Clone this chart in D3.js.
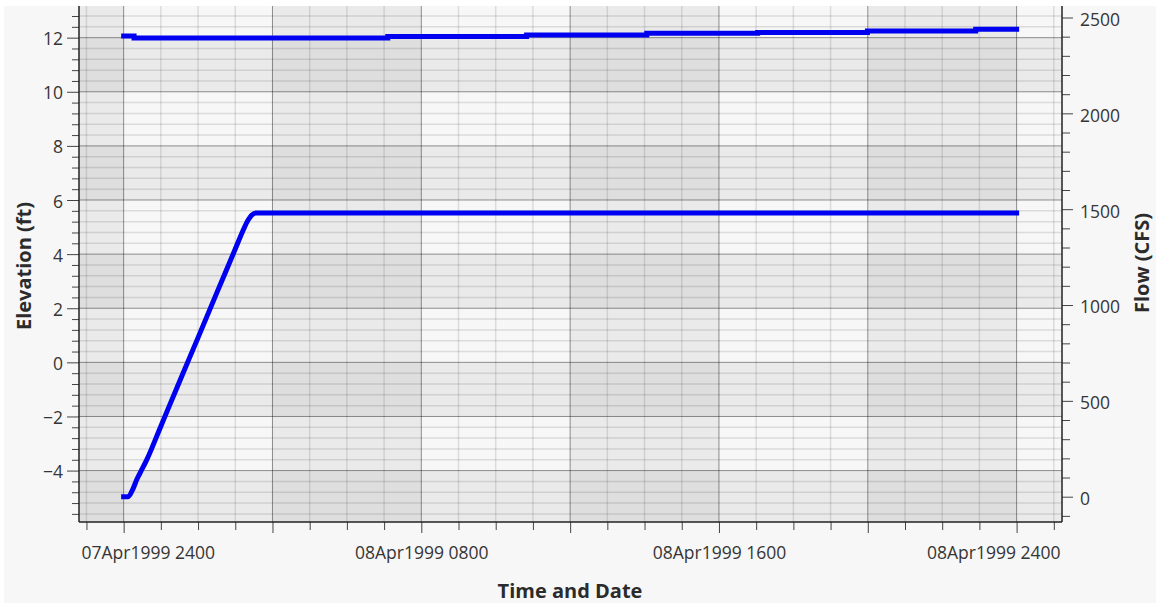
<!DOCTYPE html>
<html lang="en">
<head>
<meta charset="UTF-8">
<title>Elevation and Flow</title>
<script src="https://d3js.org/d3.v7.min.js"></script>
<style>
    html, body { margin: 0; padding: 0; background: #fff; }
    svg { display: block; }
    .tick-label {
        font-family: "Open Sans", "Noto Sans", sans-serif;
        font-size: 17.5px;
        fill: #353535;
    }
    .axis-title {
        font-family: "Open Sans", "Noto Sans", sans-serif;
        font-size: 20px;
        font-weight: bold;
        fill: #2b2b2b;
    }
</style>
</head>
<body>
<svg width="1156" height="606"></svg>
<script>
    // time in hours after 07Apr1999 2400
    const flowHours  = [0, 0.12, 0.26, 0.35, 0.44, 0.62, 1.0, 1.5, 2.0, 2.5, 3.0, 3.2, 3.35, 3.45, 3.55, 24];
    const flowValues = [0, 0, 45, 88, 123, 192, 368, 600, 830, 1062, 1292, 1385, 1445, 1470, 1480, 1480];

    const elevHours  = [0, 0.28, 7.1, 10.83, 14.06, 17.04, 19.99, 22.9, 24];
    const elevValues = [12.06, 11.99, 12.04, 12.10, 12.16, 12.19, 12.25, 12.31, 12.31];

    const xLabelHours = [0, 8, 16, 24];
    const xLabels = ["07Apr1999 2400", "08Apr1999 0800", "08Apr1999 1600", "08Apr1999 2400"];
    const elevTicks = [-4, -2, 0, 2, 4, 6, 8, 10, 12];
    const flowTicks = [0, 500, 1000, 1500, 2000, 2500];

    const margin = { top: 6, right: 94, bottom: 84, left: 79 };
    const width = 1156 - margin.left - margin.right;
    const height = 606 - margin.top - margin.bottom;

    const svg0 = d3.select("svg");
    // grey panel
    svg0.append("rect").attr("x", 4).attr("y", 6).attr("width", 1152).attr("height", 597).attr("fill", "#f7f7f7");

    const svg = svg0.append("g").attr("transform", `translate(${margin.left},${margin.top})`);

    const x = d3.scaleLinear().domain([-1.2, 25.22]).range([0, width]);
    const yElev = d3.scaleLinear().domain([-5.9, 13.17]).range([height, 0]);
    const yFlow = d3.scaleLinear().domain([-132, 2560]).range([height, 0]);

    svg.append("clipPath").attr("id", "plot-clip")
        .append("rect").attr("width", width).attr("height", height);

    const plot = svg.append("g").attr("clip-path", "url(#plot-clip)");

    // checker bands
    plot.append("rect").attr("width", width).attr("height", height).attr("fill", "#f7f7f7");
    d3.range(-4, 28, 4).forEach(h => {
        if (Math.floor(h / 4) % 2 !== 0) {
            plot.append("rect")
                .attr("x", x(h)).attr("y", 0)
                .attr("width", x(h + 4) - x(h)).attr("height", height)
                .attr("fill", "rgba(0,0,0,0.05)");
        }
    });
    d3.range(-6, 14, 2).forEach(v => {
        if (Math.abs(Math.floor(v / 2)) % 2 === 1) {
            plot.append("rect")
                .attr("x", 0).attr("y", yElev(v + 2))
                .attr("width", width).attr("height", yElev(v) - yElev(v + 2))
                .attr("fill", "rgba(0,0,0,0.05)");
        }
    });

    // grid
    const minorX = d3.range(-1, 26).filter(h => h % 4 !== 0);
    const majorX = d3.range(0, 25, 4);
    const minorY = d3.range(-28, 66).map(i => i * 0.2).filter(v => Math.round(v * 10) % 4 === 0 && Math.round(v * 10) % 20 !== 0);
    const majorY = d3.range(-4, 13, 2);

    plot.selectAll(".gx-minor").data(minorX).enter().append("line")
        .attr("x1", d => x(d)).attr("x2", d => x(d)).attr("y1", 0).attr("y2", height)
        .attr("stroke", "rgba(0,0,0,0.11)").attr("stroke-width", 1.5);
    plot.selectAll(".gy-minor").data(minorY).enter().append("line")
        .attr("x1", 0).attr("x2", width).attr("y1", d => yElev(d)).attr("y2", d => yElev(d))
        .attr("stroke", "rgba(0,0,0,0.11)").attr("stroke-width", 1.5);
    plot.selectAll(".gx-major").data(majorX).enter().append("line")
        .attr("x1", d => x(d)).attr("x2", d => x(d)).attr("y1", 0).attr("y2", height)
        .attr("stroke", "rgba(0,0,0,0.42)").attr("stroke-width", 1);
    plot.selectAll(".gy-major").data(majorY).enter().append("line")
        .attr("x1", 0).attr("x2", width).attr("y1", d => yElev(d)).attr("y2", d => yElev(d))
        .attr("stroke", "rgba(0,0,0,0.42)").attr("stroke-width", 1);

    // series
    const flowData = flowHours.map((h, i) => ({ h: h, v: flowValues[i] }));
    const elevData = elevHours.map((h, i) => ({ h: h, v: elevValues[i] }));

    plot.append("path").datum(elevData)
        .attr("fill", "none").attr("stroke", "#0000f0").attr("stroke-width", 5)
        .attr("stroke-linecap", "square")
        .attr("d", d3.line().x(d => x(d.h)).y(d => yElev(d.v)).curve(d3.curveStepAfter));

    plot.append("path").datum(flowData)
        .attr("fill", "none").attr("stroke", "#0000f0").attr("stroke-width", 5)
        .attr("stroke-linecap", "square").attr("stroke-linejoin", "round")
        .attr("d", d3.line().x(d => x(d.h)).y(d => yFlow(d.v)).curve(d3.curveMonotoneX));

    // axes
    function styleAxis(g) {
        g.select(".domain").remove();
        g.selectAll(".tick line").attr("stroke", "#444");
        g.selectAll(".tick text").attr("class", "tick-label").attr("fill", null);
    }

    svg.append("g")
        .call(d3.axisLeft(yElev).tickValues(minorY).tickSize(7).tickFormat(""))
        .call(styleAxis);
    svg.append("g")
        .call(d3.axisLeft(yElev).tickValues(elevTicks).tickSize(12).tickPadding(4).tickFormat(d3.format("d")))
        .call(styleAxis)
        .selectAll("text").attr("dy", "0.4em");

    const minorFlow = d3.range(-100, 2600, 100).filter(v => v % 500 !== 0);
    svg.append("g").attr("transform", `translate(${width},0)`)
        .call(d3.axisRight(yFlow).tickValues(minorFlow).tickSize(8).tickFormat(""))
        .call(styleAxis);
    svg.append("g").attr("transform", `translate(${width},0)`)
        .call(d3.axisRight(yFlow).tickValues(flowTicks).tickSize(11).tickPadding(7).tickFormat(d3.format("d")))
        .call(styleAxis)
        .selectAll("text").attr("dy", "0.45em");

    svg.append("g").attr("transform", `translate(0,${height})`)
        .call(d3.axisBottom(x).tickValues(minorX).tickSize(8).tickFormat(""))
        .call(styleAxis);
    const xAxis = svg.append("g").attr("transform", `translate(0,${height})`)
        .call(d3.axisBottom(x).tickValues(majorX).tickSize(11)
            .tickFormat(d => { const i = xLabelHours.indexOf(d); return i >= 0 ? xLabels[i] : ""; }))
        .call(styleAxis);
    xAxis.selectAll("text").attr("y", 37).attr("dy", 0)
        .each(function () {
            const t = d3.select(this);
            const w = this.getComputedTextLength();
            const cx = x(t.datum());
            let dx = 0;
            if (cx - w / 2 < 2) dx = 2 - (cx - w / 2);
            if (cx + w / 2 > width - 2) dx = (width - 2) - (cx + w / 2);
            t.attr("x", dx);
        });

    // frame lines
    const frame = svg.append("g").attr("stroke", "#222").attr("stroke-width", 1.5);
    frame.append("line").attr("x1", 0).attr("x2", 0).attr("y1", 0).attr("y2", height);
    frame.append("line").attr("x1", width).attr("x2", width).attr("y1", 0).attr("y2", height);
    frame.append("line").attr("x1", 0).attr("x2", width).attr("y1", height).attr("y2", height);

    // titles
    svg0.append("text").attr("class", "axis-title")
        .attr("text-anchor", "middle")
        .attr("transform", "translate(31,266) rotate(-90)")
        .text("Elevation (ft)");
    svg0.append("text").attr("class", "axis-title")
        .attr("text-anchor", "middle")
        .attr("transform", "translate(1149,263) rotate(-90)")
        .text("Flow (CFS)");
    svg0.append("text").attr("class", "axis-title")
        .attr("text-anchor", "middle")
        .attr("x", 570).attr("y", 598)
        .text("Time and Date");
</script>
</body>
</html>
